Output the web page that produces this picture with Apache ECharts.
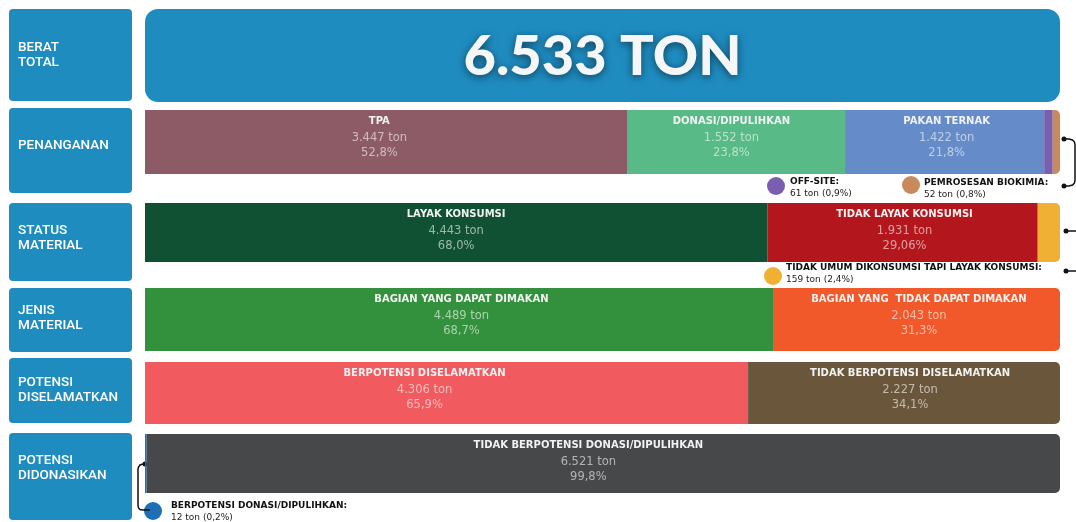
<!DOCTYPE html>
<html lang="id">
<head>
    <meta charset="UTF-8">
    <title>Berat total - stacked</title>
    <script src="https://cdn.jsdelivr.net/npm/echarts@6/dist/echarts.min.js"></script>
    <style>
        html, body { margin: 0; padding: 0; background: #fff; }
        #main { width: 1076px; height: 522px; }
    </style>
</head>
<body>
<div id="main"></div>
<script type="text/javascript">
  // data
  var totalWeight = 6533;
  var rowNames = ['BERAT\nTOTAL', 'PENANGANAN', 'STATUS\nMATERIAL', 'JENIS\nMATERIAL', 'POTENSI\nDISELAMATKAN', 'POTENSI\nDIDONASIKAN'];

  var penangananNames = ['TPA', 'DONASI/DIPULIHKAN', 'PAKAN TERNAK', 'OFF-SITE', 'PEMROSESAN BIOKIMIA'];
  var penangananValues = [3447, 1552, 1422, 61, 52];
  var penangananPct = ['52,8%', '23,8%', '21,8%', '0,9%', '0,8%'];

  var statusNames = ['LAYAK KONSUMSI', 'TIDAK LAYAK KONSUMSI', 'TIDAK UMUM DIKONSUMSI TAPI LAYAK KONSUMSI'];
  var statusValues = [4443, 1931, 159];
  var statusPct = ['68,0%', '29,06%', '2,4%'];

  var jenisNames = ['BAGIAN YANG DAPAT DIMAKAN', 'BAGIAN YANG  TIDAK DAPAT DIMAKAN'];
  var jenisValues = [4489, 2043];
  var jenisPct = ['68,7%', '31,3%'];

  var selamatNames = ['BERPOTENSI DISELAMATKAN', 'TIDAK BERPOTENSI DISELAMATKAN'];
  var selamatValues = [4306, 2227];
  var selamatPct = ['65,9%', '34,1%'];

  var donasiNames = ['BERPOTENSI DONASI/DIPULIHKAN', 'TIDAK BERPOTENSI DONASI/DIPULIHKAN'];
  var donasiValues = [12, 6521];
  var donasiPct = ['0,2%', '99,8%'];

  // styles
  var boxBlue = '#1f8cc0';
  var penangananColors = ['#8c5b66', '#58ba86', '#658bc8', '#7a5fb0', '#c98a5b'];
  var statusColors = ['#0f5132', '#b3161c', '#f0b033'];
  var jenisColors = ['#33913e', '#f1592b'];
  var selamatColors = ['#f15a5e', '#6a573b'];
  var donasiColors = ['#1e6fb8', '#464849'];

  // layout: [top, height] for bars and left boxes
  var barRows = [[9, 93], [110, 64], [203, 59], [288, 63], [362, 62], [434, 59]];
  var boxRows = [[9, 92], [108, 85], [203, 78], [288, 64], [358, 65], [433, 87]];
  var boxTextY = [55, 146, 238, 318, 390, 468];

  function fmt(v) {
    return String(v).replace(/\B(?=(\d{3})+(?!\d))/g, '.');
  }

  var rows = [
    {names: penangananNames, values: penangananValues, pct: penangananPct, colors: penangananColors, callout: [3, 4], offs: [-7, -5, 2]},
    {names: statusNames, values: statusValues, pct: statusPct, colors: statusColors, callout: [2], offs: [0, 2]},
    {names: jenisNames, values: jenisValues, pct: jenisPct, colors: jenisColors, callout: [], offs: [2, 2]},
    {names: selamatNames, values: selamatValues, pct: selamatPct, colors: selamatColors, callout: [], offs: [-22, 6]},
    {names: donasiNames, values: donasiValues, pct: donasiPct, colors: donasiColors, callout: [0], offs: [0, -15]}
  ];

  var grids = [], xAxes = [], yAxes = [], series = [];
  barRows.forEach(function (r, i) {
    grids.push({left: 145, right: 16, top: r[0], height: r[1]});
    xAxes.push({type: 'value', gridIndex: i, min: 0, max: i === 0 ? totalWeight : 'dataMax', show: false});
    yAxes.push({type: 'category', gridIndex: i, data: [rowNames[i]], show: false});
  });

  // total bar
  series.push({
    type: 'bar', xAxisIndex: 0, yAxisIndex: 0, barWidth: '100%',
    data: [totalWeight],
    itemStyle: {color: boxBlue, borderRadius: 13},
    label: {
      show: true, position: 'inside', offset: [0, 1],
      formatter: function (p) { return fmt(p.value) + ' TON'; },
      fontFamily: 'Lato', fontWeight: 900, fontSize: 56, color: '#f5f6f8',
      textShadowColor: 'rgba(0,0,0,0.55)', textShadowBlur: 8, textShadowOffsetY: 2
    }
  });

  rows.forEach(function (row, ri) {
    var gi = ri + 1;
    row.values.forEach(function (v, si) {
      var last = si === row.values.length - 1;
      var hasLabel = row.callout.indexOf(si) < 0;
      series.push({
        type: 'bar', name: row.names[si], xAxisIndex: gi, yAxisIndex: gi, stack: 'row' + gi,
        barWidth: '100%',
        data: [v],
        itemStyle: {color: row.colors[si], borderRadius: last ? [0, 5, 5, 0] : 0},
        label: {
          show: hasLabel, position: 'insideTop', distance: 1,
          offset: [row.offs[si] || 0, 0],
          formatter: '{t|' + row.names[si] + '}\n{v|' + fmt(v) + ' ton}\n{v|' + row.pct[si] + '}',
          rich: {
            t: {fontFamily: 'DejaVu Sans', fontWeight: 'bold', fontSize: 10, color: '#f2f2f2', lineHeight: 20},
            v: {fontFamily: 'DejaVu Sans', fontSize: 11.5, color: 'rgba(255,255,255,0.58)', lineHeight: 14.5}
          }
        }
      });
    });
  });

  var graphics = [];
  rowNames.forEach(function (name, i) {
    graphics.push({
      type: 'rect', shape: {x: 9, y: boxRows[i][0], width: 123, height: boxRows[i][1], r: 4},
      style: {fill: boxBlue}
    });
    graphics.push({
      type: 'text', x: 18, y: boxTextY[i],
      style: {text: name, fill: '#ffffff', font: '500 13.5px Roboto', lineHeight: 15, textVerticalAlign: 'middle'}
    });
  });

  function callout(cx, cy, color, tx, ty, title, sub) {
    graphics.push({type: 'circle', shape: {cx: cx, cy: cy, r: 9}, style: {fill: color}});
    graphics.push({type: 'text', x: tx, y: ty, style: {text: title, fill: '#111', font: 'bold 9px "DejaVu Sans"', textVerticalAlign: 'middle'}});
    graphics.push({type: 'text', x: tx, y: ty + 12, style: {text: sub, fill: '#222', font: '9px "DejaVu Sans"', textVerticalAlign: 'middle'}});
  }
  function sub(row, i) { return row.values[i] + ' ton (' + row.pct[i] + ')'; }

  var pr = rows[0], sr = rows[1], dr = rows[4];
  callout(776, 186, pr.colors[3], 790, 182, pr.names[3] + ':', sub(pr, 3));
  callout(911, 185, pr.colors[4], 924, 183, pr.names[4] + ':', sub(pr, 4));
  callout(773, 276, sr.colors[2], 786, 268, sr.names[2] + ':', sub(sr, 2));
  callout(153, 511, dr.colors[0], 171, 506, dr.names[0] + ':', sub(dr, 0));

  // connectors
  var lineStyle = {stroke: '#111', lineWidth: 1.5, fill: null};
  graphics.push({type: 'polyline', shape: {points: [[1064, 139], [1069, 139], [1072.5, 140], [1074.5, 142], [1075, 145], [1075, 180], [1074.5, 183], [1072.5, 185], [1069, 186], [1064, 186]]}, style: lineStyle});
  graphics.push({type: 'line', shape: {x1: 1066, y1: 231, x2: 1076, y2: 231}, style: lineStyle});
  graphics.push({type: 'line', shape: {x1: 1066, y1: 271, x2: 1076, y2: 271}, style: lineStyle});
  graphics.push({type: 'polyline', shape: {points: [[145, 464], [143, 464], [140, 465], [138.5, 467], [138, 469], [138, 505], [138.5, 508], [140, 509.5], [143, 510], [150, 510]]}, style: lineStyle});
  [[1064, 139], [1064, 186], [1066, 231], [1066, 271], [145, 464]].forEach(function (d) {
    graphics.push({type: 'circle', shape: {cx: d[0], cy: d[1], r: 2.5}, style: {fill: '#111'}});
  });

  var myChart = echarts.init(document.getElementById('main'));
  myChart.setOption({
    animation: false,
    backgroundColor: '#ffffff',
    grid: grids,
    xAxis: xAxes,
    yAxis: yAxes,
    series: series,
    graphic: graphics
  });

  window.addEventListener('resize', function () {
    myChart.resize();
  });
</script>
</body>
</html>
